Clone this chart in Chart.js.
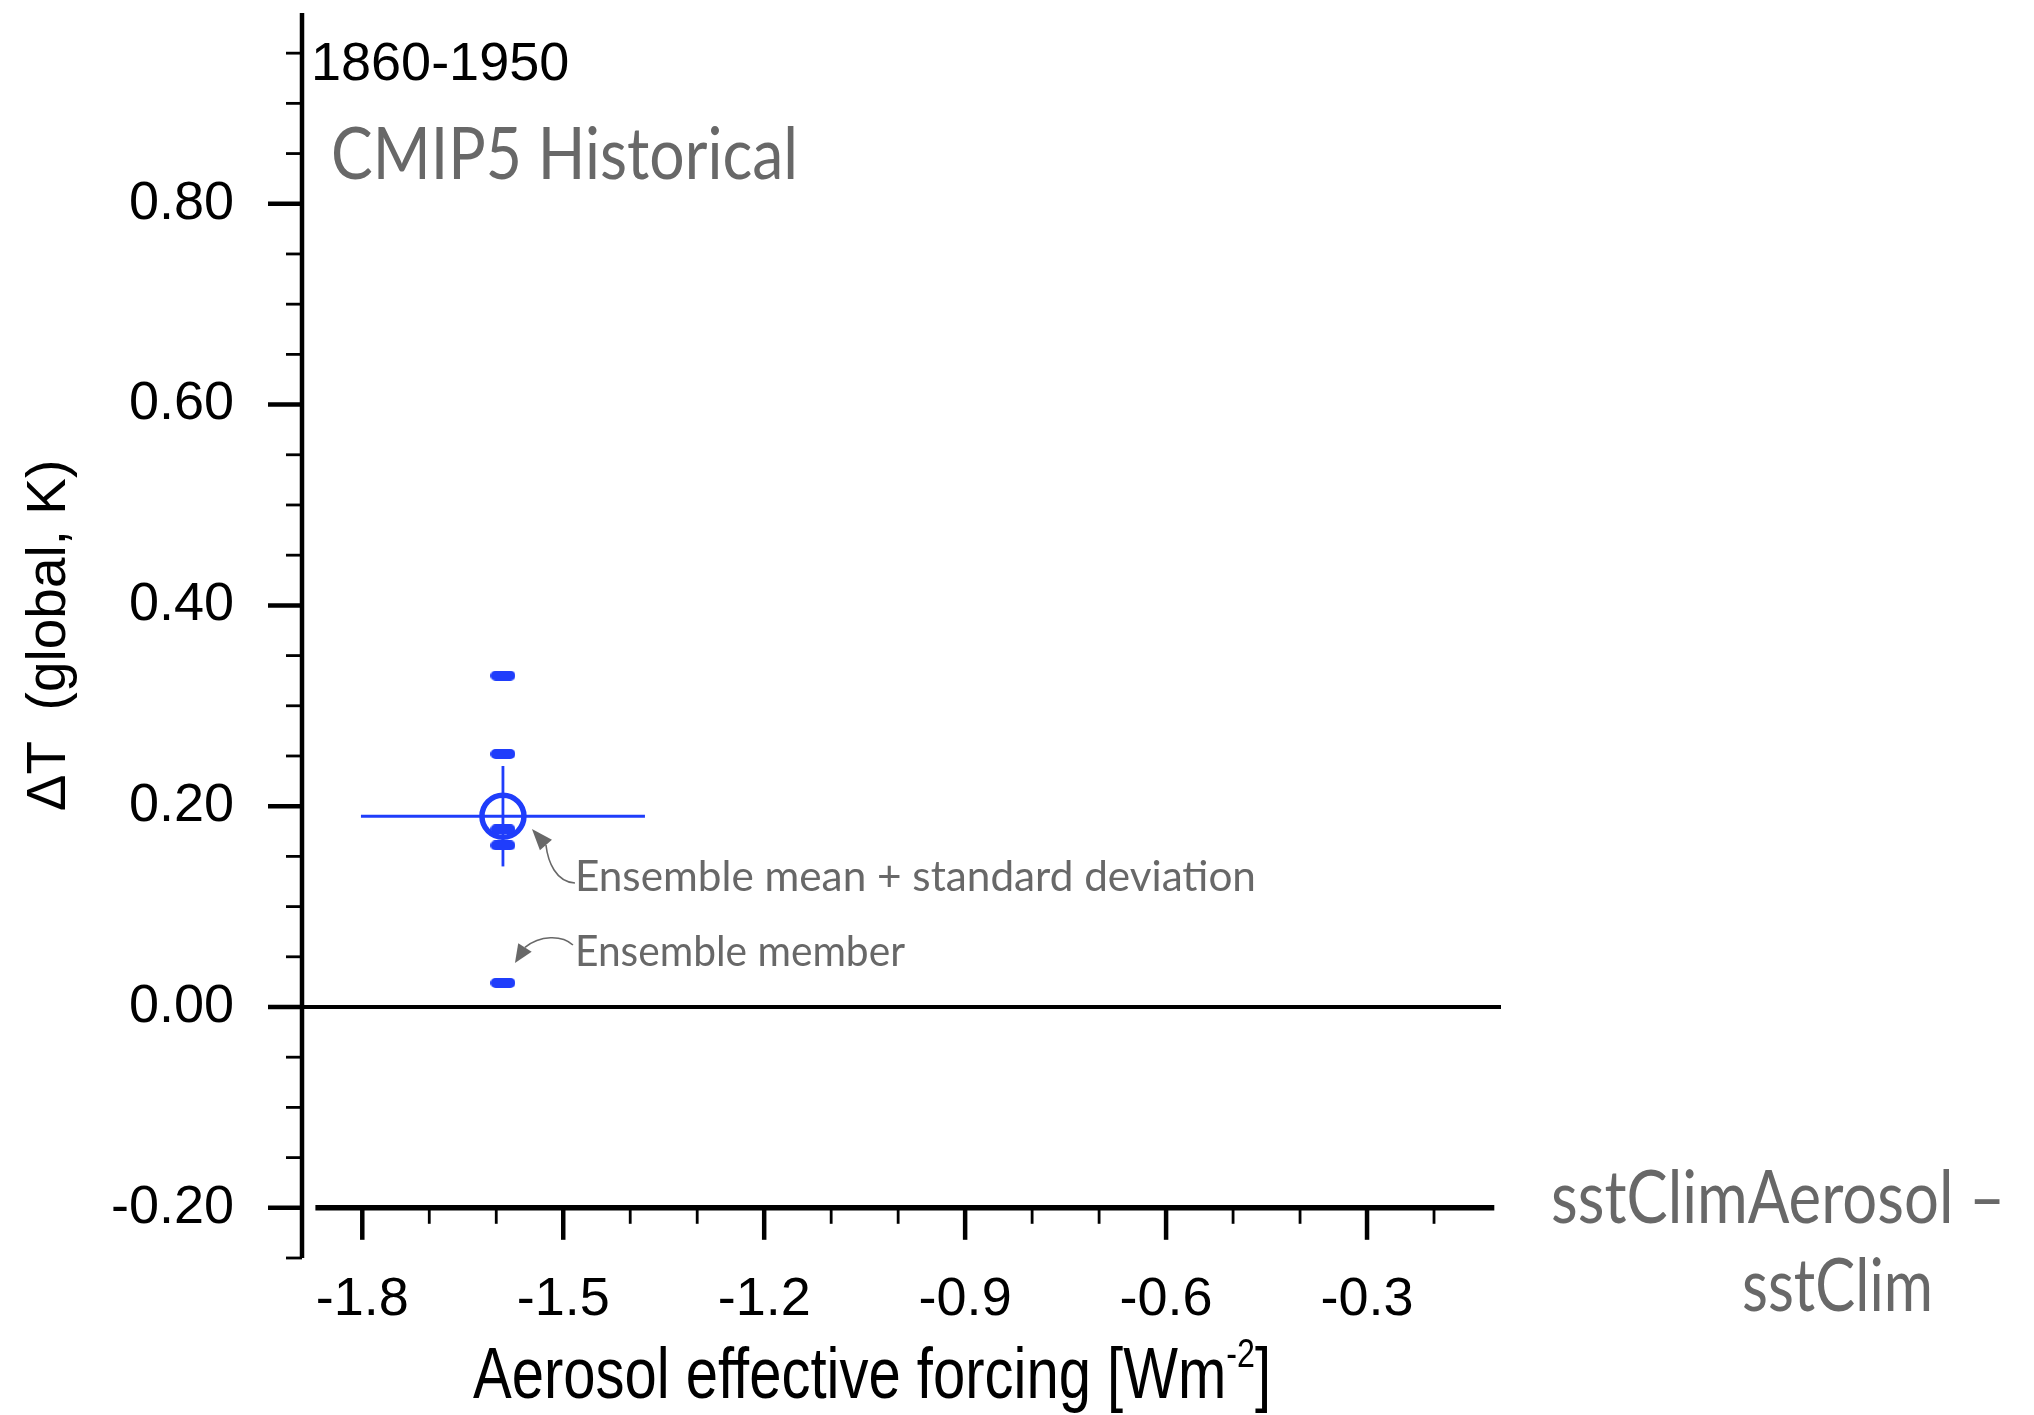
<!DOCTYPE html>
<html>
<head>
<meta charset="utf-8">
<script src="https://cdn.jsdelivr.net/npm/chart.js@4.4.1/dist/chart.umd.min.js"></script>
<style>
  html, body { margin: 0; padding: 0; background: #fff; }
  #chart { display: block; }
</style>
</head>
<body>
<canvas id="chart" width="2034" height="1415"></canvas>
<script>
// sstClimAerosol - sstClim ensemble members, 1860-1950
const memberForcing = [-1.59, -1.59, -1.59, -1.59, -1.59];
const memberDeltaT = [0.330, 0.252, 0.177, 0.161, 0.024];

// ensemble mean and standard deviation
const meanForcing = -1.59;
const meanDeltaT = 0.19;
const sdForcing = 0.212;
const sdDeltaT = 0.05;

const xTickValues = [-1.8, -1.5, -1.2, -0.9, -0.6, -0.3];
const yTickValues = [-0.2, 0.0, 0.2, 0.4, 0.6, 0.8];

const blue = '#1f3dfb';
const grey = '#686868';
const sansFont = "'Liberation Sans', Arial, sans-serif";
const labelFont = "Lato, 'Noto Sans', sans-serif";

// rounded dash used as the ensemble member marker
function makeDash(w, h, color) {
    const c = document.createElement('canvas');
    c.width = w;
    c.height = h;
    const g = c.getContext('2d');
    g.fillStyle = color;
    g.beginPath();
    g.roundRect(0, 0, w, h, h / 2);
    g.fill();
    return c;
}

// text squeezed horizontally to a given width (the original uses a condensed face)
function fillFitted(ctx, text, x, y, width) {
    const w = ctx.measureText(text).width;
    ctx.save();
    ctx.translate(x, y);
    ctx.scale(width / w, 1);
    ctx.fillText(text, 0, 0);
    ctx.restore();
}

function drawArrow(ctx, ox, oy, pts) {
    // pts: start, cp1, cp2, end (head base), tip -- offsets from (ox, oy)
    const p = pts.map(q => [ox + q[0], oy + q[1]]);
    ctx.save();
    ctx.strokeStyle = grey;
    ctx.fillStyle = grey;
    ctx.lineWidth = 1.6;
    ctx.beginPath();
    ctx.moveTo(p[0][0], p[0][1]);
    ctx.bezierCurveTo(p[1][0], p[1][1], p[2][0], p[2][1], p[3][0], p[3][1]);
    ctx.stroke();
    const dx = p[4][0] - p[3][0], dy = p[4][1] - p[3][1];
    const len = Math.hypot(dx, dy);
    const nx = -dy / len * 8, ny = dx / len * 8;
    ctx.beginPath();
    ctx.moveTo(p[4][0], p[4][1]);
    ctx.lineTo(p[3][0] + nx, p[3][1] + ny);
    ctx.lineTo(p[3][0] - nx, p[3][1] - ny);
    ctx.closePath();
    ctx.fill();
    ctx.restore();
}

const axisDecor = {
    id: 'axisDecor',
    beforeDatasetsDraw(chart) {
        const {ctx, chartArea, scales: {x, y}} = chart;
        ctx.save();
        ctx.strokeStyle = '#000';
        ctx.lineCap = 'butt';

        // y axis line
        ctx.lineWidth = 4.5;
        ctx.beginPath();
        ctx.moveTo(chartArea.left, chartArea.top);
        ctx.lineTo(chartArea.left, chartArea.bottom);
        ctx.stroke();

        // y ticks, minor every 0.05
        for (let v = -0.25; v < 0.99; v += 0.05) {
            const val = Math.round(v * 100) / 100;
            const major = yTickValues.some(t => Math.abs(t - val) < 1e-6);
            const py = y.getPixelForValue(val);
            ctx.lineWidth = major ? 4.5 : 2.8;
            ctx.beginPath();
            ctx.moveTo(chartArea.left, py);
            ctx.lineTo(chartArea.left - (major ? 34 : 16), py);
            ctx.stroke();
        }

        // zero line
        const y0 = y.getPixelForValue(0);
        ctx.lineWidth = 4;
        ctx.beginPath();
        ctx.moveTo(chartArea.left, y0);
        ctx.lineTo(chartArea.right, y0);
        ctx.stroke();

        // x axis drawn at -0.2
        const ya = y.getPixelForValue(-0.2);
        ctx.lineWidth = 5.5;
        ctx.beginPath();
        ctx.moveTo(x.getPixelForValue(-1.87), ya);
        ctx.lineTo(x.getPixelForValue(-0.11), ya);
        ctx.stroke();

        for (let v = -1.8; v < -0.15; v += 0.1) {
            const val = Math.round(v * 10) / 10;
            const major = xTickValues.some(t => Math.abs(t - val) < 1e-6);
            const px = x.getPixelForValue(val);
            ctx.lineWidth = major ? 4.5 : 2.8;
            ctx.beginPath();
            ctx.moveTo(px, ya);
            ctx.lineTo(px, ya + (major ? 32 : 16));
            ctx.stroke();
        }
        ctx.restore();
    },
    afterDatasetsDraw(chart) {
        const {ctx, chartArea, scales: {x, y}} = chart;
        ctx.save();

        // period and experiment labels
        ctx.fillStyle = '#000';
        ctx.textBaseline = 'middle';
        ctx.textAlign = 'left';
        ctx.font = '54px ' + sansFont;
        ctx.fillText('1860-1950', chartArea.left + 9, 65);
        ctx.fillStyle = grey;
        ctx.font = '72px ' + labelFont;
        fillFitted(ctx, 'CMIP5 Historical', chartArea.left + 29, 156, 467);

        // annotations for the mean and the members
        const ax = x.getPixelForValue(-1.4825);
        const a1 = y.getPixelForValue(0.1295);
        const a2 = y.getPixelForValue(0.0548);
        ctx.font = '43px ' + labelFont;
        fillFitted(ctx, 'Ensemble mean + standard deviation', ax, a1, 681);
        fillFitted(ctx, 'Ensemble member', ax, a2, 330);
        drawArrow(ctx, ax, a1, [[0, 6], [-19, 5], [-27, -15], [-29, -32], [-43, -48]]);
        drawArrow(ctx, ax, a2, [[-2, -7], [-13, -17], [-35, -17], [-50, -4.5], [-60, 11]]);

        // experiment name at the right
        ctx.font = '74px ' + labelFont;
        fillFitted(ctx, 'sstClimAerosol \u2013', 1551, 1199, 454);
        fillFitted(ctx, 'sstClim', 1742, 1287, 191);

        // x axis title with superscript, squeezed to the original width
        ctx.fillStyle = '#000';
        const main = 'Aerosol effective forcing [Wm';
        ctx.font = '72px ' + sansFont;
        const w1 = ctx.measureText(main).width;
        const w3 = ctx.measureText(']').width;
        ctx.font = '40px ' + sansFont;
        const w2 = ctx.measureText('-2').width;
        const total = w1 + w2 + w3;
        const k = 798 / total;
        ctx.save();
        ctx.translate(872 - 399, 1378);
        ctx.scale(k, 1);
        ctx.font = '72px ' + sansFont;
        ctx.fillText(main, 0, 0);
        ctx.fillText(']', w1 + w2, 0);
        ctx.font = '40px ' + sansFont;
        ctx.fillText('-2', w1, -22);
        ctx.restore();
        ctx.restore();
    }
};

const memberPoints = memberForcing.map((f, i) => ({ x: f, y: memberDeltaT[i] }));

new Chart(document.getElementById('chart'), {
    type: 'scatter',
    data: {
        datasets: [
            {
                label: 'Ensemble member',
                data: memberPoints,
                pointStyle: makeDash(25, 10, blue),
                pointRadius: 12
            },
            {
                label: 'Ensemble mean',
                data: [{ x: meanForcing, y: meanDeltaT }],
                pointStyle: 'circle',
                pointRadius: 21,
                borderWidth: 5.5,
                borderColor: blue,
                backgroundColor: 'rgba(0,0,0,0)'
            },
            {
                type: 'line',
                label: 'sd forcing',
                data: [{ x: meanForcing - sdForcing, y: meanDeltaT }, { x: meanForcing + sdForcing, y: meanDeltaT }],
                showLine: true,
                borderColor: blue,
                borderWidth: 2.8,
                pointRadius: 0
            },
            {
                type: 'line',
                label: 'sd deltaT',
                data: [{ x: meanForcing, y: meanDeltaT - sdDeltaT }, { x: meanForcing, y: meanDeltaT + sdDeltaT }],
                showLine: true,
                borderColor: blue,
                borderWidth: 2.8,
                pointRadius: 0
            }
        ]
    },
    options: {
        responsive: false,
        animation: false,
        events: [],
        layout: { autoPadding: false, padding: { top: 13, right: 533, bottom: 0, left: 0 } },
        plugins: {
            legend: { display: false },
            tooltip: { enabled: false }
        },
        scales: {
            x: {
                type: 'linear',
                position: 'bottom',
                min: -1.89,
                max: -0.1,
                grid: { display: false, drawTicks: false },
                border: { display: false },
                afterBuildTicks: s => { s.ticks = xTickValues.map(v => ({ value: v })); },
                afterFit: s => { s.height = 157; s.paddingLeft = 0; s.paddingRight = 0; },
                ticks: {
                    autoSkip: false,
                    maxRotation: 0,
                    padding: 10,
                    color: '#000',
                    font: { family: sansFont, size: 54 },
                    callback: v => v.toFixed(1)
                }
            },
            y: {
                type: 'linear',
                min: -0.25,
                max: 0.99,
                grid: { display: false, drawTicks: false },
                border: { display: false },
                afterBuildTicks: s => { s.ticks = yTickValues.map(v => ({ value: v })); },
                afterFit: s => { s.width = 302; s.paddingTop = 0; s.paddingBottom = 0; },
                ticks: {
                    autoSkip: false,
                    padding: 68,
                    color: '#000',
                    font: { family: sansFont, size: 54 },
                    callback: v => v.toFixed(2)
                },
                title: {
                    display: true,
                    text: '\u0394T  (global, K)',
                    color: '#000',
                    font: { family: sansFont, size: 55 },
                    padding: { top: 17, bottom: 0 }
                }
            }
        }
    },
    plugins: [axisDecor]
});
</script>
</body>
</html>
